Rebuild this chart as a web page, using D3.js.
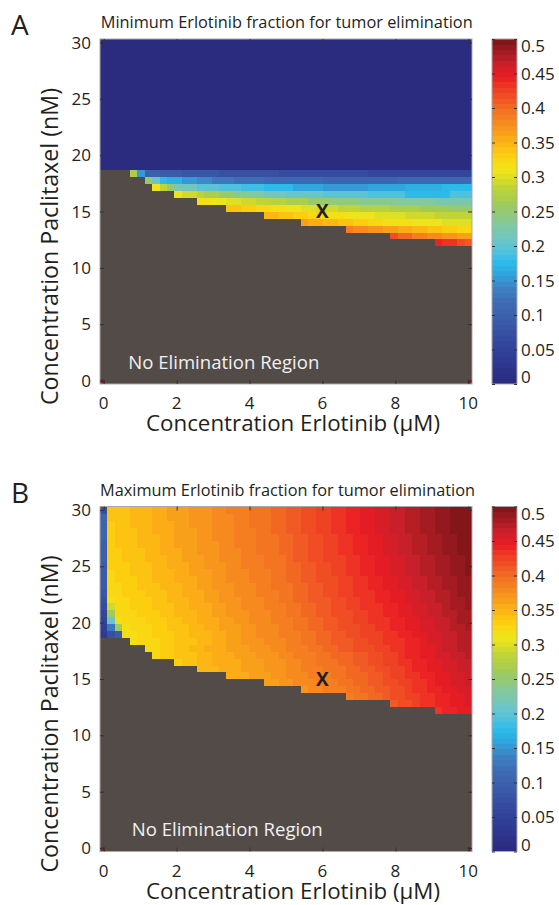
<!DOCTYPE html>
<html>
<head>
<meta charset="utf-8">
<script src="https://cdn.jsdelivr.net/npm/d3@7"></script>
<style>
	body { margin: 0; background: #fff; }
	svg text { font-family: "Open Sans", "Noto Sans", sans-serif; fill: #231f20; }
</style>
</head>
<body>
<div id="chart"></div>
<script>
// grid of the simulation (50 x 50 points)
const erlotinibMax = 10;     // uM
const paclitaxelMax = 30;    // nM
const gridSize = 50;

const xTicks = [0, 2, 4, 6, 8, 10];
const yTicks = [0, 5, 10, 15, 20, 25, 30];
const cbarTicks = [0, 0.05, 0.1, 0.15, 0.2, 0.25, 0.3, 0.35, 0.4, 0.45, 0.5];
const cbarLabels = ['0', '0.05', '0.1', '0.15', '0.2', '0.25', '0.3', '0.35', '0.4', '0.45', '0.5'];
const cbarMax = 0.5;
const cbarSteps = 64;

// first paclitaxel row (index) where the tumor can be eliminated, per erlotinib column
const firstElimRow = [31,31,31,31,30,30,29,28,28,28,27,27,27,26,26,26,26,25,25,25,25,25,24,24,24,24,24,
	23,23,23,23,23,23,22,22,22,22,22,22,21,21,21,21,21,21,20,20,20,20,20];

// colour index (0-63, value = (index + .5) / 128) read per row as runs [startColumn, index]
// panel A: rows not listed are 0
const minFracRuns = [
	[30, [[4,34],[5,19],[6,12],[8,11],[11,10],[16,9],[24,8],[36,7]]],
	[29, [[6,32],[7,26],[8,22],[9,21],[11,19],[13,18],[15,16],[18,15],[22,14],[30,13],[40,14]]],
	[28, [[7,39],[8,36],[9,32],[10,28],[11,27],[13,25],[16,24],[19,23],[22,22],[26,20],[30,19],[36,20],[41,21],[46,22]]],
	[27, [[10,39],[11,37],[13,35],[14,34],[16,32],[18,30],[20,29],[22,27],[25,26],[30,25],[36,24],[41,22],[47,24]]],
	[26, [[13,40],[15,39],[17,38],[19,37],[21,36],[23,35],[25,34],[28,32],[31,31],[35,30],[40,29],[45,28]]],
	[25, [[17,43],[19,42],[21,41],[23,40],[25,39],[27,38],[29,37],[32,36],[35,35],[39,34],[43,33],[47,32]]],
	[24, [[22,44],[24,43],[26,42],[28,41],[30,40],[33,39],[37,38],[41,37],[45,36]]],
	[23, [[27,46],[28,45],[30,44],[32,43],[34,42],[36,41],[38,40],[42,39],[46,38]]],
	[22, [[33,49],[34,48],[36,47],[38,46],[40,45],[42,44],[44,43],[46,42],[48,41]]],
	[21, [[39,53],[40,51],[42,49],[44,48],[46,47],[48,46]]],
	[20, [[45,56],[46,55],[48,53],[49,52]]]
];

// panel B
const maxFracRuns = [
	[49, [[0,9],[1,43],[4,44],[7,45],[9,46],[12,47],[15,48],[17,49],[20,50],[23,51],[25,52],[27,53],[29,54],[31,55],[33,56],[35,57],[37,58],[39,59],[41,60],[43,61],[45,62],[47,63]]],
	[48, [[0,13],[1,43],[4,44],[7,45],[9,46],[12,47],[15,48],[18,49],[20,50],[23,51],[25,52],[27,53],[29,54],[31,55],[33,56],[35,57],[37,58],[39,59],[41,60],[43,61],[45,62],[47,63]]],
	[47, [[0,13],[1,42],[2,43],[4,44],[7,45],[10,46],[12,47],[15,48],[18,49],[20,50],[23,51],[25,52],[27,53],[29,54],[31,55],[33,56],[35,57],[37,58],[39,59],[41,60],[43,61],[45,62],[47,63]]],
	[46, [[0,13],[1,42],[2,43],[5,44],[7,45],[10,46],[13,47],[15,48],[18,49],[21,50],[23,51],[25,52],[27,53],[29,54],[31,55],[33,56],[35,57],[37,58],[39,59],[41,60],[43,61],[45,62],[47,63]]],
	[45, [[0,13],[1,42],[2,43],[5,44],[8,45],[10,46],[13,47],[15,48],[18,49],[21,50],[24,51],[26,52],[28,53],[30,54],[32,55],[34,56],[36,57],[38,58],[40,59],[42,60],[44,61],[46,62],[48,63]]],
	[44, [[0,12],[1,42],[2,43],[5,44],[8,45],[10,46],[13,47],[16,48],[18,49],[21,50],[24,51],[26,52],[28,53],[30,54],[32,55],[34,56],[36,57],[38,58],[40,59],[42,60],[44,61],[46,62],[48,63]]],
	[43, [[0,12],[1,42],[3,43],[6,44],[8,45],[11,46],[13,47],[16,48],[19,49],[21,50],[24,51],[26,52],[28,53],[30,54],[32,55],[34,56],[36,57],[38,58],[40,59],[42,60],[44,61],[46,62],[48,63]]],
	[42, [[0,12],[1,42],[3,43],[6,44],[9,45],[11,46],[14,47],[16,48],[19,49],[22,50],[25,51],[26,52],[28,53],[30,54],[33,55],[35,56],[37,57],[39,58],[41,59],[43,60],[45,61],[47,62],[49,63]]],
	[41, [[0,11],[1,42],[4,43],[7,44],[9,45],[12,46],[14,47],[17,48],[19,49],[22,50],[25,51],[27,52],[29,53],[31,54],[33,55],[35,56],[37,57],[39,58],[41,59],[43,60],[45,61],[47,62],[49,63]]],
	[40, [[0,11],[1,41],[2,42],[4,43],[7,44],[10,45],[12,46],[15,47],[17,48],[20,49],[23,50],[25,51],[27,52],[29,53],[31,54],[33,55],[35,56],[37,57],[39,58],[41,59],[43,60],[45,61],[47,62],[49,63]]],
	[39, [[0,11],[1,41],[2,42],[5,43],[7,44],[10,45],[13,46],[15,47],[17,48],[20,49],[23,50],[25,51],[27,52],[29,53],[32,54],[34,55],[36,56],[38,57],[40,58],[42,59],[44,60],[46,61],[48,62]]],
	[38, [[0,11],[1,41],[3,42],[5,43],[8,44],[11,45],[13,46],[15,47],[18,48],[21,49],[23,50],[26,51],[28,52],[30,53],[32,54],[34,55],[36,56],[38,57],[40,58],[42,59],[44,60],[46,61],[48,62]]],
	[37, [[0,10],[1,41],[3,42],[6,43],[9,44],[11,45],[14,46],[16,47],[18,48],[21,49],[24,50],[26,51],[28,52],[30,53],[32,54],[34,55],[37,56],[39,57],[41,58],[43,59],[45,60],[47,61],[48,62]]],
	[36, [[0,9],[1,40],[2,41],[4,42],[7,43],[9,44],[12,45],[14,46],[16,47],[19,48],[22,49],[24,50],[26,51],[28,52],[31,53],[33,54],[35,55],[37,56],[39,57],[41,58],[43,59],[45,60],[47,61],[49,62]]],
	[35, [[0,8],[1,37],[2,41],[4,42],[7,43],[10,44],[12,45],[15,46],[17,47],[19,48],[22,49],[25,50],[27,51],[29,52],[31,53],[33,54],[35,55],[38,56],[40,57],[42,58],[44,59],[46,60],[47,61],[49,62]]],
	[34, [[0,7],[1,33],[2,41],[5,42],[8,43],[10,44],[13,45],[15,46],[17,47],[20,48],[23,49],[25,50],[27,51],[29,52],[31,53],[34,54],[36,55],[38,56],[40,57],[42,58],[44,59],[46,60],[48,61]]],
	[33, [[0,6],[1,26],[2,40],[3,41],[6,42],[9,43],[11,44],[13,45],[16,46],[18,47],[20,48],[23,49],[26,50],[28,51],[30,52],[32,53],[34,54],[36,55],[39,56],[41,57],[43,58],[45,59],[47,60],[48,61]]],
	[32, [[0,5],[1,16],[2,33],[3,40],[4,41],[7,42],[9,43],[12,44],[14,45],[16,46],[19,47],[21,48],[24,49],[26,50],[28,51],[30,52],[32,53],[35,54],[37,55],[39,56],[41,57],[43,58],[45,59],[47,60],[49,61]]],
	[31, [[0,4],[1,9],[2,11],[3,40],[5,41],[7,42],[10,43],[12,44],[15,45],[17,46],[19,47],[21,48],[24,49],[27,50],[29,51],[31,52],[33,53],[35,54],[38,55],[40,56],[42,57],[44,58],[46,59],[48,60]]],
	[30, [[4,40],[5,41],[8,42],[10,43],[13,44],[15,45],[17,46],[19,47],[22,48],[25,49],[27,50],[29,51],[31,52],[34,53],[36,54],[38,55],[41,56],[43,57],[44,58],[46,59],[48,60]]],
	[29, [[6,41],[8,42],[10,43],[12,44],[14,45],[17,46],[20,47],[23,48],[25,49],[28,50],[30,51],[32,52],[34,53],[37,54],[39,55],[41,56],[43,57],[45,58],[46,59],[48,60]]],
	[28, [[7,41],[8,42],[10,43],[13,44],[15,45],[18,46],[21,47],[24,48],[26,49],[29,50],[31,51],[34,52],[36,53],[38,54],[40,55],[41,56],[43,57],[45,58],[47,59],[49,60]]],
	[27, [[10,42],[11,43],[13,44],[15,45],[19,46],[22,47],[25,48],[27,49],[29,50],[32,51],[34,52],[36,53],[38,54],[40,55],[42,56],[44,57],[46,58],[48,59]]],
	[26, [[13,44],[16,45],[19,46],[22,47],[25,48],[27,49],[30,50],[33,51],[35,52],[37,53],[39,54],[41,55],[42,56],[44,57],[46,58],[48,59]]],
	[25, [[17,45],[20,46],[23,47],[25,48],[28,49],[31,50],[33,51],[36,52],[38,53],[39,54],[41,55],[43,56],[45,57],[47,58],[49,59]]],
	[24, [[22,46],[24,47],[26,48],[29,49],[32,50],[34,51],[36,52],[38,53],[40,54],[42,55],[44,56],[45,57],[47,58],[49,59]]],
	[23, [[27,47],[28,48],[30,49],[33,50],[35,51],[37,52],[39,53],[41,54],[42,55],[44,56],[46,57],[48,58]]],
	[22, [[33,49],[34,50],[36,51],[38,52],[39,53],[41,54],[43,55],[45,56],[47,57],[49,58]]],
	[21, [[39,52],[40,53],[42,54],[43,55],[45,56],[47,57],[49,58]]],
	[20, [[45,55],[46,56],[48,57]]]
];

// operating point marked with an X (erlotinib uM, paclitaxel nM)
const markPoint = [6, 15];

// muted jet colour map, as printed
const mapStops  = [0, .06, .12, .18, .24, .28, .32, .35, .38, .42, .47, .52, .57, .62, .66, .70, .74, .78, .82, .86, .89, .93, .97, 1];
const mapColors = ['#2b2a7d','#2e3790','#34479c','#3b5aa9','#3d6db5','#3e83c5','#2fa6df','#2bbaeb','#4cc1e0','#6ec6c6',
	'#86c898','#9eca5c','#c1d435','#f0e51a','#fdd10f','#fcb415','#f8961d','#f47b20','#f15a24','#ee3a24','#ec1c24','#c8202a','#9a1b20','#7a1416'];
const noElimColor = '#534b48';

const panels = [
	{ top: 39, label: 'A', title: 'Minimum Erlotinib fraction for tumor elimination', runs: minFracRuns, titleX: 100.7, titleLen: 372, noElimX: 128.3 },
	{ top: 506.5, label: 'B', title: 'Maximum Erlotinib fraction for tumor elimination', runs: maxFracRuns, titleX: 100, titleLen: 375, noElimX: 131.7 }
];

const m = { left: 100, width: 372, height: 345 };
const cbar = { left: 492, width: 25 };

const svg = d3.select('#chart').append('svg')
	.attr('width', 559)
	.attr('height', 905);

const cmap = d3.scaleLinear().domain(mapStops).range(mapColors).interpolate(d3.interpolateRgb);
const levelColor = lev => cmap((Math.min(lev, cbarSteps - 1) + 0.5) / cbarSteps);

const dx = erlotinibMax / (gridSize - 1);
const dy = paclitaxelMax / (gridSize - 1);
const xs = d3.range(gridSize).map(i => i * dx);
const ys = d3.range(gridSize).map(j => j * dy);

const xScale = d3.scaleLinear().domain([-dx / 2, erlotinibMax + dx / 2]).range([0, m.width]);
const yScale = d3.scaleLinear().domain([-dy / 2, paclitaxelMax + dy / 2]).range([m.height, 0]);
const cScale = d3.scaleLinear().domain([0, cbarMax]).range([m.height, 0]);

function levelGrid(runs) {
	const grid = d3.range(gridSize).map(() => new Array(gridSize).fill(0));
	runs.forEach(([row, segs]) => {
		segs.forEach(([start, lev], k) => {
			const end = k + 1 < segs.length ? segs[k + 1][0] : gridSize;
			for (let c = start; c < end; c++) grid[row][c] = lev;
		});
	});
	return grid;
}

function drawPanel(p) {
	const g = svg.append('g').attr('transform', 'translate(' + m.left + ',' + p.top + ')');
	const grid = levelGrid(p.runs);

	const cells = [];
	xs.forEach((x, c) => {
		ys.forEach((y, j) => {
			cells.push({ x: x, y: y, noElim: j < firstElimRow[c], level: grid[j][c] });
		});
	});

	g.append('g').attr('class', 'cells')
		.selectAll('rect')
		.data(cells)
		.enter().append('rect')
		.attr('x', d => xScale(d.x - dx / 2))
		.attr('y', d => yScale(d.y + dy / 2))
		.attr('width', xScale(dx) - xScale(0) + 0.3)
		.attr('height', yScale(0) - yScale(dy) + 0.3)
		.attr('shape-rendering', 'crispEdges')
		.style('fill', d => d.noElim ? noElimColor : levelColor(d.level));

	// bits of the underlying image showing at the edges
	const lastCol = gridSize - 1;
	g.append('line')
		.attr('x1', m.width - 0.6).attr('x2', m.width - 0.6)
		.attr('y1', yScale(ys[firstElimRow[lastCol]] - dy / 2))
		.attr('y2', m.height)
		.style('stroke', '#74302a').style('stroke-width', 1.2);
	[0, erlotinibMax].forEach(v => {
		g.append('rect')
			.attr('x', v === 0 ? xScale(v - dx / 2) + 0.5 : xScale(v + dx / 2) - 4.5)
			.attr('y', m.height - 4.5)
			.attr('width', 4).attr('height', 4)
			.style('fill', '#8a1c1e');
	});

	// frame and inward ticks
	g.append('rect')
		.attr('width', m.width).attr('height', m.height)
		.style('fill', 'none').style('stroke', '#a7a9ac').style('stroke-width', 1);

	const tickStyle = sel => {
		sel.select('.domain').remove();
		sel.selectAll('line').style('stroke', '#333').style('stroke-width', 1);
		sel.selectAll('text').remove();
	};
	g.append('g').call(d3.axisLeft(yScale).tickValues(yTicks).tickSize(-4)).call(tickStyle);
	g.append('g').attr('transform', 'translate(' + m.width + ',0)')
		.call(d3.axisRight(yScale).tickValues(yTicks).tickSize(-4)).call(tickStyle);
	g.append('g').call(d3.axisTop(xScale).tickValues(xTicks).tickSize(-4)).call(tickStyle);
	g.append('g').attr('transform', 'translate(0,' + m.height + ')')
		.call(d3.axisBottom(xScale).tickValues(xTicks).tickSize(-4)).call(tickStyle);

	// tick labels
	g.selectAll('.ylab').data(yTicks).enter().append('text')
		.attr('class', 'ylab')
		.attr('x', -9).attr('y', d => yScale(d))
		.attr('dy', '0.36em')
		.attr('text-anchor', 'end')
		.style('font-size', '17px')
		.text(d => d);
	g.selectAll('.xlab').data(xTicks).enter().append('text')
		.attr('class', 'xlab')
		.attr('x', d => xScale(d)).attr('y', m.height + 25)
		.attr('text-anchor', 'middle')
		.style('font-size', '17px')
		.text(d => d);

	// axis titles
	g.append('text')
		.attr('x', 193).attr('y', m.height + 47)
		.attr('text-anchor', 'middle')
		.attr('textLength', 294).attr('lengthAdjust', 'spacingAndGlyphs')
		.style('font-size', '22px')
		.text('Concentration Erlotinib (\u03BCM)');
	g.append('text')
		.attr('transform', 'translate(-42.5,207.5) rotate(-90)')
		.attr('text-anchor', 'middle')
		.attr('textLength', 317).attr('lengthAdjust', 'spacingAndGlyphs')
		.style('font-size', '23px')
		.text('Concentration Paclitaxel (nM)');

	// title, panel letter, annotations
	svg.append('text')
		.attr('x', p.titleX).attr('y', p.top - 11)
		.attr('textLength', p.titleLen).attr('lengthAdjust', 'spacingAndGlyphs')
		.style('font-size', '17px')
		.text(p.title);
	svg.append('text')
		.attr('x', 11).attr('y', p.top - 4)
		.style('font-size', '28px')
		.text(p.label);
	svg.append('text')
		.attr('x', p.noElimX).attr('y', p.top + 329.5)
		.attr('textLength', 191).attr('lengthAdjust', 'spacingAndGlyphs')
		.style('font-size', '18.5px')
		.style('fill', '#f1f1f1')
		.text('No Elimination Region');
	g.append('text')
		.attr('x', xScale(markPoint[0])).attr('y', yScale(markPoint[1]))
		.attr('dy', '0.36em')
		.attr('text-anchor', 'middle')
		.style('font-size', '19px').style('font-weight', 'bold')
		.text('X');

	// colour bar
	const cb = svg.append('g').attr('transform', 'translate(' + cbar.left + ',' + p.top + ')');
	const steps = d3.range(cbarSteps);
	cb.selectAll('rect.step').data(steps).enter().append('rect')
		.attr('class', 'step')
		.attr('x', 0).attr('width', cbar.width)
		.attr('y', d => cScale((d + 1) * cbarMax / cbarSteps))
		.attr('height', cScale(0) - cScale(cbarMax / cbarSteps) + 0.3)
		.attr('shape-rendering', 'crispEdges')
		.style('fill', d => levelColor(d));
	cb.append('rect')
		.attr('width', cbar.width).attr('height', m.height)
		.style('fill', 'none').style('stroke', '#a7a9ac').style('stroke-width', 1);
	cb.append('g').call(d3.axisLeft(cScale).tickValues(cbarTicks).tickSize(-3)).call(tickStyle);
	cb.append('g').attr('transform', 'translate(' + cbar.width + ',0)')
		.call(d3.axisRight(cScale).tickValues(cbarTicks).tickSize(-3)).call(tickStyle);
	cb.selectAll('.clab').data(cbarTicks).enter().append('text')
		.attr('class', 'clab')
		.attr('x', cbar.width + 4)
		.attr('y', d => Math.min(Math.max(cScale(d), 7), m.height - 7))
		.attr('dy', '0.36em')
		.style('font-size', '17px')
		.text((d, i) => cbarLabels[i]);
}

panels.forEach(drawPanel);
</script>
</body>
</html>
